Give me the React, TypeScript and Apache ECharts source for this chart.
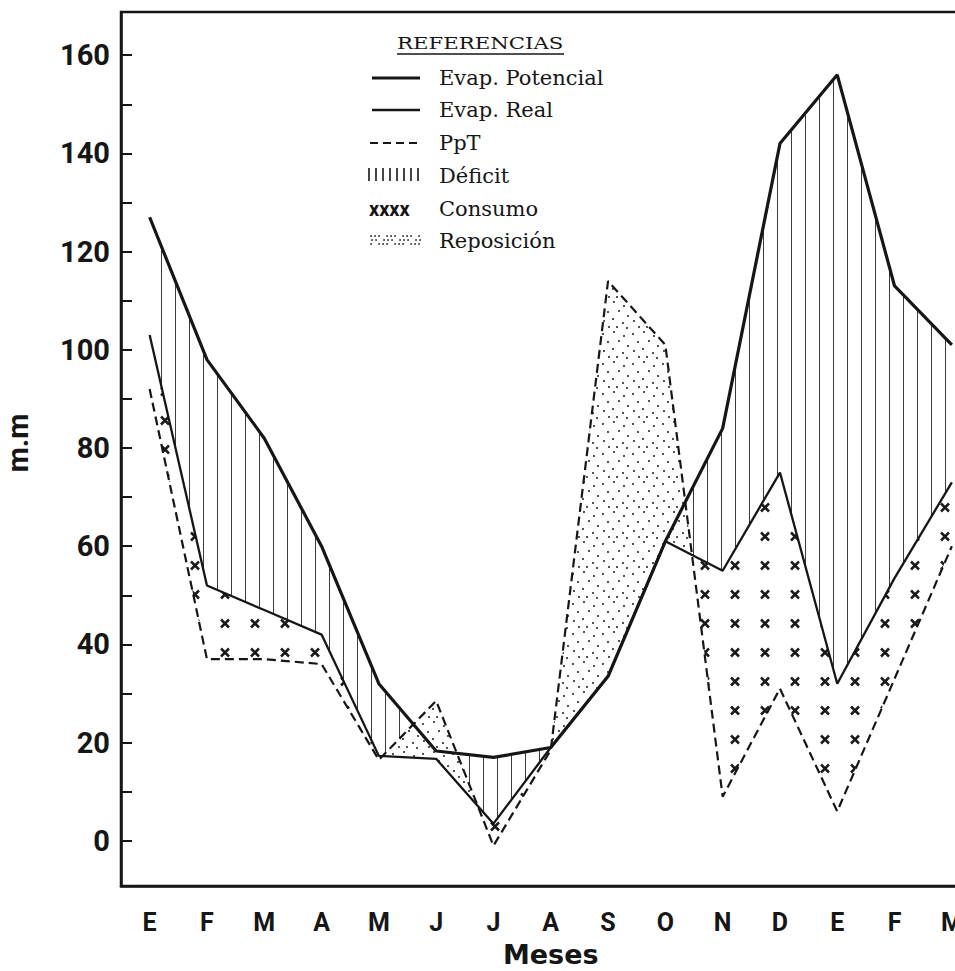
import React, { useEffect, useRef } from 'react';
import * as echarts from 'echarts';

// ---- data ----
const months = ['E', 'F', 'M', 'A', 'M', 'J', 'J', 'A', 'S', 'O', 'N', 'D', 'E', 'F', 'M'];
const evapPotencial = [127, 98, 82, 60, 32, 18.3, 17, 19, 33.5, 61, 84, 142, 156, 113, 101];
const evapReal = [103, 52, 47, 42, 17.3, 16.7, 3.5, 19, 33.5, 61, 55, 75, 32, 53.5, 73];
const ppt = [92, 37, 37, 36, 16.5, 28.5, -1, 18.5, 114, 101, 9, 31, 6, 33, 60];
const yLabelValues = [0, 20, 40, 60, 80, 100, 120, 140, 160];
const legendTitle = 'REFERENCIAS';
const legendLabels = ['Evap. Potencial', 'Evap. Real', 'PpT', 'Déficit', 'Consumo', 'Reposición'];

const INK = '#161616';
const SANS = 'Roboto, "DejaVu Sans", sans-serif';
const SERIF = '"DejaVu Serif", "Liberation Serif", serif';

type Pt = [number, number];

// polygons of the region where upper > lower, with crossing points
function bandPolygons(upper: number[], lower: number[], coord: (i: number, v: number) => Pt): Pt[][] {
  const polys: Pt[][] = [];
  let top: Pt[] | null = null;
  let bot: Pt[] = [];
  const n = Math.min(upper.length, lower.length);
  const close = () => {
    if (top && top.length + bot.length >= 3) polys.push(top.concat(bot.slice().reverse()));
    top = null;
    bot = [];
  };
  for (let i = 0; i < n; i++) {
    const d = upper[i] - lower[i];
    const inside = d > 0;
    if (inside) {
      if (!top) { top = []; bot = []; }
      top.push(coord(i, upper[i]));
      bot.push(coord(i, lower[i]));
    }
    if (i < n - 1) {
      const d2 = upper[i + 1] - lower[i + 1];
      const inside2 = d2 > 0;
      if (inside !== inside2) {
        const t = d / (d - d2);
        const a = coord(i, upper[i]);
        const b = coord(i + 1, upper[i + 1]);
        const p: Pt = [a[0] + (b[0] - a[0]) * t, a[1] + (b[1] - a[1]) * t];
        if (inside) { (top as Pt[]).push(p); close(); }
        else { top = [p]; bot = []; }
      }
    }
  }
  close();
  return polys;
}

function makeCanvas(w: number, h: number, draw: (ctx: CanvasRenderingContext2D) => void) {
  const c = document.createElement('canvas');
  c.width = w;
  c.height = h;
  const ctx = c.getContext('2d') as CanvasRenderingContext2D;
  draw(ctx);
  return c;
}

export default function App() {
  const ref = useRef<HTMLDivElement | null>(null);

  useEffect(() => {
    if (!ref.current) return;

    // textures
    const hatchCanvas = makeCanvas(14, 8, (ctx) => {
      ctx.fillStyle = '#3c3c3c';
      ctx.fillRect(7, 0, 1, 8);
    });
    const dotsCanvas = makeCanvas(30, 30, (ctx) => {
      ctx.fillStyle = '#ffffff';
      ctx.fillRect(0, 0, 30, 30);
      ctx.fillStyle = '#1a1a1a';
      const pts = [[3, 4], [14, 2], [24, 6], [8, 12], [19, 11], [28, 16], [4, 21], [13, 19], [23, 23], [9, 27], [17, 27], [27, 28]];
      pts.forEach(([x, y]) => { ctx.beginPath(); ctx.arc(x, y, 1, 0, Math.PI * 2); ctx.fill(); });
    });
    const crossCanvas = makeCanvas(30, 29, (ctx) => {
      ctx.strokeStyle = '#1a1a1a';
      ctx.lineWidth = 2.5;
      const h = 4;
      const cx = 15;
      const cy = 14.5;
      ctx.beginPath();
      ctx.moveTo(cx - h, cy - h); ctx.lineTo(cx + h, cy + h);
      ctx.moveTo(cx + h, cy - h); ctx.lineTo(cx - h, cy + h);
      ctx.stroke();
    });
    const hatchFill = { image: hatchCanvas, repeat: 'repeat', imageWidth: 14, imageHeight: 8 };
    const dotsFill = { image: dotsCanvas, repeat: 'repeat', imageWidth: 30, imageHeight: 30 };
    const crossFill = { image: crossCanvas, repeat: 'repeat', imageWidth: 30, imageHeight: 29 };

    const fillSeries = (name: string, upper: number[], lower: number[], fill: any, z: number) => ({
      type: 'custom',
      name,
      z,
      silent: true,
      data: [[0, 0]],
      renderItem: (_params: any, api: any) => {
        const coord = (i: number, v: number) => api.coord([i, v]) as Pt;
        const polys = bandPolygons(upper, lower, coord);
        return {
          type: 'group',
          children: polys.map((points) => ({
            type: 'polygon',
            shape: { points },
            style: { fill, stroke: null },
          })),
        };
      },
    });

    const chart = echarts.init(ref.current, null, { renderer: 'svg' });

    // legend graphics
    const legendX = 439;
    const rows = [77, 109, 142, 175, 208, 240];
    const graphic: any[] = [
      {
        type: 'text', x: 397, y: 43, scaleX: 1.25,
        style: { text: legendTitle, fill: INK, font: `17px ${SERIF}`, verticalAlign: 'middle', textVerticalAlign: 'middle' },
      },
      { type: 'line', shape: { x1: 397, y1: 54, x2: 564, y2: 54 }, style: { stroke: INK, lineWidth: 1.5 } },
      { type: 'line', shape: { x1: 372, y1: rows[0] + 1, x2: 420, y2: rows[0] + 1 }, style: { stroke: INK, lineWidth: 3 } },
      { type: 'line', shape: { x1: 372, y1: rows[1] + 1, x2: 420, y2: rows[1] + 1 }, style: { stroke: INK, lineWidth: 2.5 } },
      { type: 'line', shape: { x1: 370, y1: rows[2] + 1, x2: 418, y2: rows[2] + 1 }, style: { stroke: INK, lineWidth: 2.2, lineDash: [8, 5] } },
      {
        type: 'text', x: 369, y: rows[4] + 1,
        style: { text: 'xxxx', fill: INK, font: `bold 20px ${SANS}`, verticalAlign: 'middle', textVerticalAlign: 'middle' },
      },
    ];
    for (let k = 0; k < 8; k++) {
      graphic.push({
        type: 'line',
        shape: { x1: 369 + k * 7, y1: rows[3] - 7, x2: 369 + k * 7, y2: rows[3] + 6 },
        style: { stroke: INK, lineWidth: 1.6 },
      });
    }
    for (let r = 0; r < 3; r++) {
      for (let c = 0; c < 13; c++) {
        if ((r + c) % 4 === 3) continue;
        graphic.push({
          type: 'circle',
          shape: { cx: 371 + c * 4 + (r % 2), cy: rows[5] - 4 + r * 4, r: 0.8 },
          style: { fill: INK },
        });
      }
    }
    legendLabels.forEach((label, i) => {
      graphic.push({
        type: 'text', x: legendX, y: rows[i] + 1,
        style: { text: label, fill: INK, font: `21px ${SERIF}`, verticalAlign: 'middle', textVerticalAlign: 'middle' },
      });
    });

    const option: any = {
      animation: false,
      backgroundColor: '#ffffff',
      textStyle: { fontFamily: SANS, color: INK },
      grid: {
        left: 121, top: 12, width: 859.5, height: 874,
        show: true, borderColor: INK, borderWidth: 2.5, backgroundColor: 'transparent',
        containLabel: false,
        outerBoundsMode: 'none',
      },
      xAxis: {
        type: 'category',
        data: months,
        boundaryGap: true,
        axisLine: { onZero: false, lineStyle: { color: INK, width: 2.5 } },
        axisTick: { alignWithLabel: true, length: 9, lineStyle: { color: INK, width: 2 } },
        axisLabel: { interval: 0, color: INK, fontFamily: SANS, fontWeight: 'bold', fontSize: 25, margin: 24 },
        splitLine: { show: false },
        name: 'Meses',
        nameLocation: 'middle',
        nameGap: 55,
        nameTextStyle: { color: INK, fontFamily: '"DejaVu Sans", sans-serif', fontWeight: 'bold', fontSize: 27 },
      },
      yAxis: {
        type: 'value',
        min: -9.2,
        max: 168.8,
        splitNumber: 18,
        axisLine: { show: true, onZero: false, lineStyle: { color: INK, width: 2.5 } },
        axisTick: { show: true, inside: true, length: 11, lineStyle: { color: INK, width: 2 } },
        axisLabel: {
          color: INK, fontFamily: SANS, fontWeight: 'bold', fontSize: 29, margin: 11,
          formatter: (v: number) => (yLabelValues.indexOf(Math.round(v * 10) / 10) >= 0 ? String(v) : ''),
        },
        splitLine: { show: false },
        name: 'm.m',
        nameLocation: 'middle',
        nameGap: 89,
        nameTextStyle: { color: INK, fontFamily: SANS, fontWeight: 'bold', fontSize: 29, padding: [0, 0, 0, 12] },
      },
      graphic,
      series: [
        fillSeries('Déficit', evapPotencial, evapReal, hatchFill, 1),
        fillSeries('Reposición', ppt, evapReal, dotsFill, 2),
        fillSeries('Consumo', evapReal, ppt, crossFill, 2),
        {
          type: 'line', name: 'Evap. Potencial', data: evapPotencial, symbol: 'none', z: 10,
          lineStyle: { color: INK, width: 3.2 },
        },
        {
          type: 'line', name: 'Evap. Real', data: evapReal, symbol: 'none', z: 10,
          lineStyle: { color: INK, width: 2.3 },
        },
        {
          type: 'line', name: 'PpT', data: ppt, symbol: 'none', z: 10,
          lineStyle: { color: INK, width: 2.2, type: [9, 5] },
        },
      ],
    };

    chart.setOption(option);
    return () => chart.dispose();
  }, []);

  return (
    <div
      style={{ position: 'fixed', left: 0, top: 0, width: 955, height: 971, overflow: 'hidden', background: '#ffffff' }}
    >
      <div ref={ref} style={{ width: 985, height: 971 }} />
    </div>
  );
}
